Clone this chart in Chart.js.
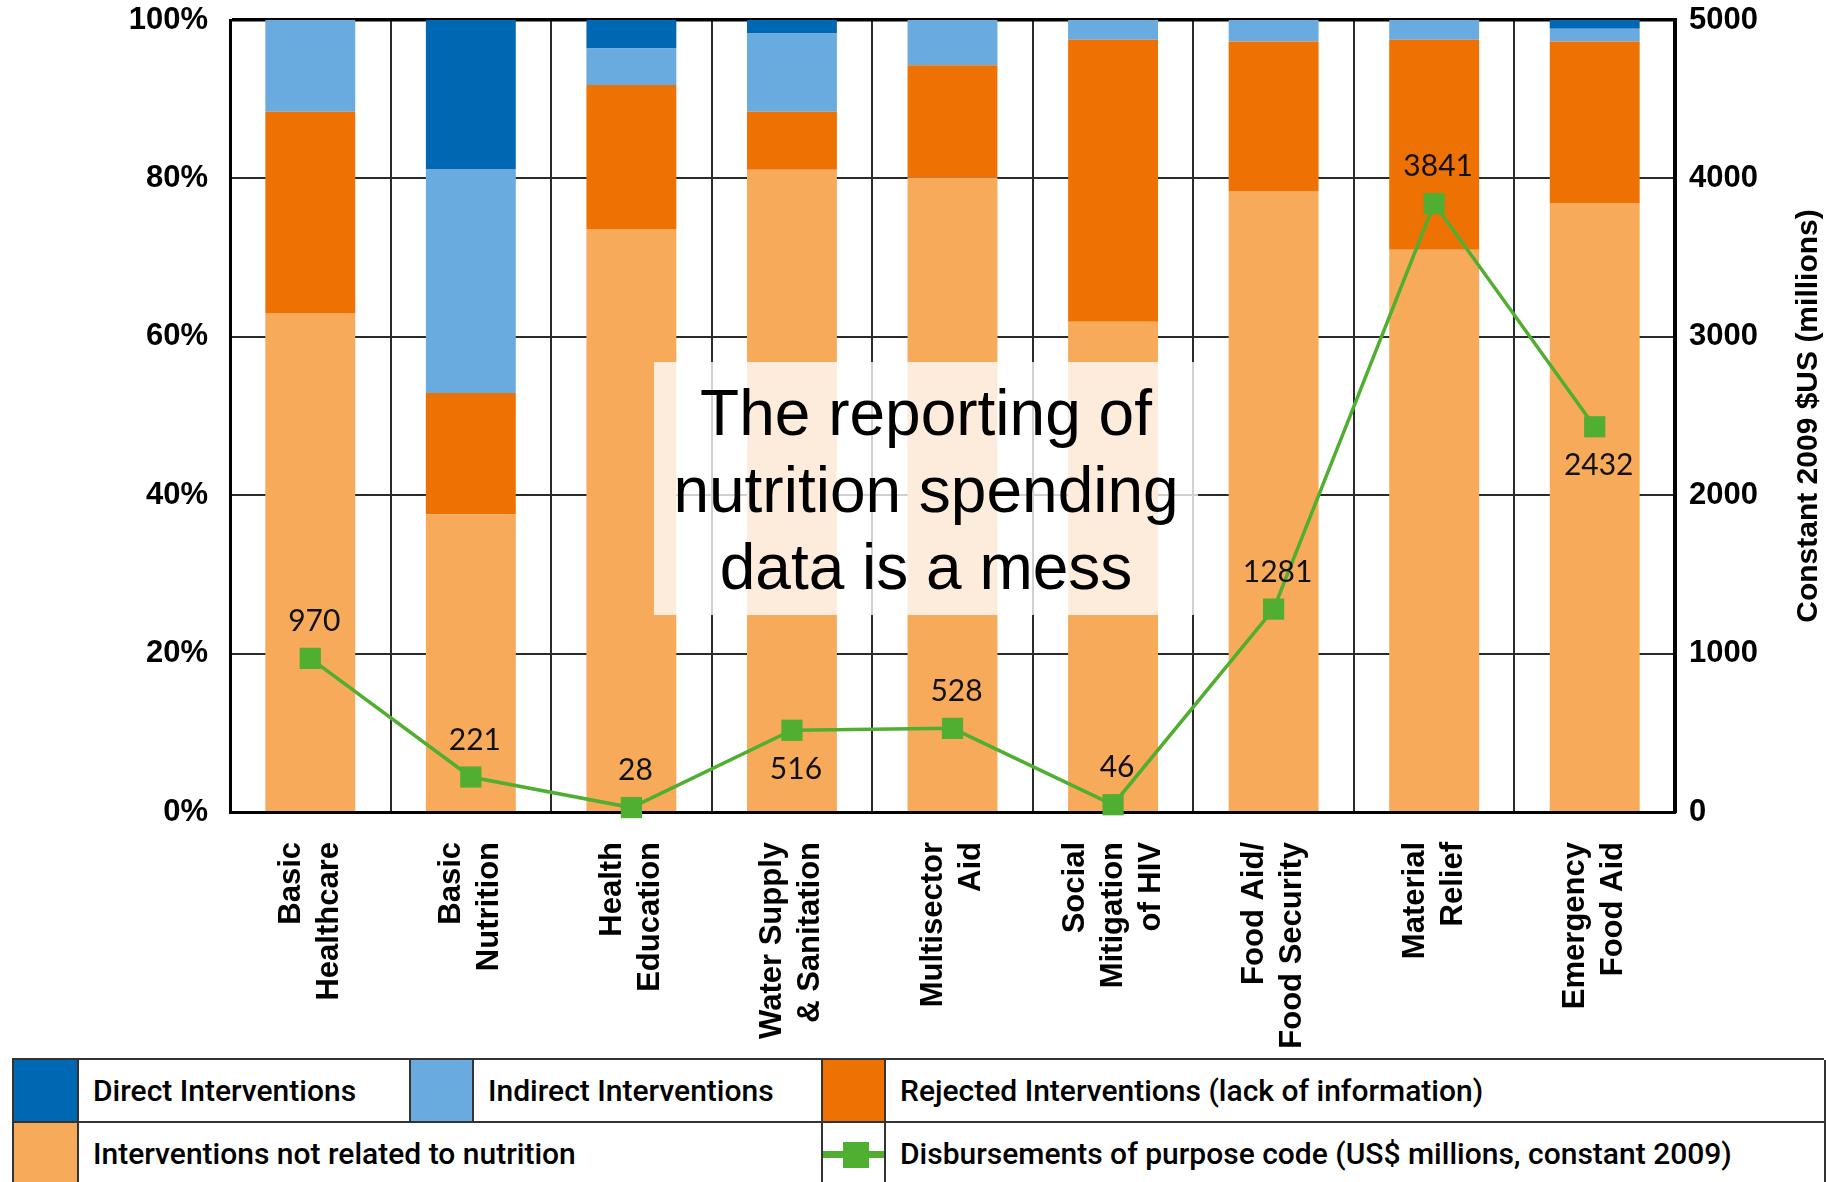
<!DOCTYPE html>
<html>
<head>
<meta charset="utf-8">
<title>Nutrition spending by purpose code</title>
<script src="https://cdn.jsdelivr.net/npm/chart.js@4.4.1/dist/chart.umd.min.js"></script>
<style>
  html, body { margin: 0; padding: 0; background: #fff; }
  body { width: 1826px; height: 1182px; overflow: hidden; position: relative; }
  #nutritionChart { position: absolute; left: 0; top: 0; }
  #legend { position: absolute; left: 12px; top: 1058px; width: 1812px; height: 130px;
            border-top: 2px solid #333; border-left: 2px solid #333; box-sizing: border-box; }
  .cell { position: absolute; box-sizing: border-box; border-right: 2px solid #333; border-bottom: 2px solid #333;
          font: 500 30px Roboto, "Liberation Sans", sans-serif; color: #000; padding-left: 14px; white-space: nowrap; }
</style>
</head>
<body>
<canvas id="nutritionChart" width="1826" height="1058"></canvas>
<div id="legend"></div>

<script>
// categories (multi line labels)
const categories = [
    ['Basic', 'Healthcare'],
    ['Basic', 'Nutrition'],
    ['Health', 'Education'],
    ['Water Supply', '& Sanitation'],
    ['Multisector', 'Aid'],
    ['Social', 'Mitigation', 'of HIV'],
    ['Food Aid/', 'Food Security'],
    ['Material', 'Relief'],
    ['Emergency', 'Food Aid']
];

// share of each purpose code (%), bottom to top of the stack
const notRelated = [63.0, 37.6, 73.6, 81.1, 80.1, 61.9, 78.4, 71.0, 76.9];
const rejected   = [25.4, 15.3, 18.2, 7.3, 14.2, 35.6, 18.9, 26.5, 20.4];
const indirect   = [11.6, 28.3, 4.6, 9.9, 5.7, 2.5, 2.7, 2.5, 1.6];
const direct     = [0, 18.8, 3.6, 1.7, 0, 0, 0, 0, 1.1];

// disbursements, US$ millions constant 2009 (right axis)
const disbursements = [970, 221, 28, 516, 528, 46, 1281, 3841, 2432];
const labelSide = ['above', 'above', 'above', 'below', 'above', 'above', 'above', 'above', 'below'];

// axis ticks
const pctTicks = [0, 20, 40, 60, 80, 100];
const usdTicks = [0, 1000, 2000, 3000, 4000, 5000];

const GREEN = '#50AE31';
const tickFont = { family: '"Liberation Sans", Arial, sans-serif', size: 31, weight: 'bold' };

// keep the plot box where the original has it (labels may hang over the edges)
function fixVertical(width) {
    return function (scale) {
        scale.width = width;
        scale.paddingTop = 0;
        scale.paddingBottom = 0;
    };
}

// draws category labels, right axis title, point labels and the note box
const extrasPlugin = {
    id: 'extras',
    afterDraw(chart) {
        const c = chart.ctx;
        const area = chart.chartArea;
        const xScale = chart.scales.x;
        c.save();

        // category labels, rotated
        c.fillStyle = '#000';
        c.font = 'bold 31px "Liberation Sans", Arial, sans-serif';
        c.textAlign = 'right';
        c.textBaseline = 'middle';
        categories.forEach((lines, i) => {
            const cx = xScale.getPixelForValue(i);
            lines.forEach((line, j) => {
                const lx = cx + (j - (lines.length - 1) / 2) * 38;
                c.save();
                c.translate(lx, area.bottom + 30);
                c.rotate(-Math.PI / 2);
                c.fillText(line, 0, 0);
                c.restore();
            });
        });

        // right axis title (reads bottom to top)
        c.save();
        c.translate(1809, (area.top + area.bottom) / 2);
        c.rotate(-Math.PI / 2);
        c.textAlign = 'center';
        c.font = 'bold 30px "Liberation Sans", Arial, sans-serif';
        c.fillText('Constant 2009 $US (millions)', 0, 0);
        c.restore();

        // value labels on the line
        const meta = chart.getDatasetMeta(4);
        c.font = '30px Lato, "Liberation Sans", sans-serif';
        c.textAlign = 'center';
        c.fillStyle = '#111';
        meta.data.forEach((pt, i) => {
            const dy = labelSide[i] === 'below' ? 39 : -37;
            c.fillText(String(disbursements[i]), pt.x + 4, pt.y + dy);
        });

        // note box
        c.fillStyle = 'rgba(255,255,255,0.78)';
        c.fillRect(654, 362, 544, 253);
        c.fillStyle = '#000';
        c.font = '64px "Liberation Sans", Arial, sans-serif';
        c.textBaseline = 'alphabetic';
        ['The reporting of', 'nutrition spending', 'data is a mess'].forEach((t, i) => {
            c.fillText(t, 926, 435 + i * 77);
        });

        c.restore();
    }
};

const ctx = document.getElementById('nutritionChart').getContext('2d');
const chart = new Chart(ctx, {
    type: 'bar',
    data: {
        labels: categories,
        datasets: [
            { label: 'Interventions not related to nutrition', data: notRelated, backgroundColor: '#F6AA5A', order: 1 },
            { label: 'Rejected Interventions (lack of information)', data: rejected, backgroundColor: '#EE7203', order: 1 },
            { label: 'Indirect Interventions', data: indirect, backgroundColor: '#69ABDF', order: 1 },
            { label: 'Direct Interventions', data: direct, backgroundColor: '#0068B3', order: 1 },
            {
                type: 'line',
                label: 'Disbursements of purpose code (US$ millions, constant 2009)',
                data: disbursements,
                yAxisID: 'y1',
                borderColor: GREEN,
                borderWidth: 3.5,
                backgroundColor: GREEN,
                pointStyle: 'rect',
                pointRadius: 15,
                pointBorderWidth: 0,
                pointBackgroundColor: GREEN,
                tension: 0,
                clip: false,
                order: 0
            }
        ]
    },
    options: {
        responsive: false,
        animation: false,
        devicePixelRatio: 1,
        layout: { padding: { top: 20, left: 0, right: 0, bottom: 0 } },
        datasets: { bar: { barPercentage: 0.56, categoryPercentage: 1 } },
        plugins: {
            legend: { display: false },
            tooltip: { enabled: false }
        },
        scales: {
            x: {
                stacked: true,
                ticks: { display: false },
                grid: { offset: true, color: '#2a2a2a', lineWidth: 2, drawTicks: false },
                border: { display: true, color: '#000', width: 3 },
                afterFit(scale) { scale.height = 246; scale.paddingLeft = 0; scale.paddingRight = 0; }
            },
            y: {
                stacked: true,
                position: 'left',
                min: 0,
                max: 100,
                afterBuildTicks(scale) { scale.ticks = pctTicks.map(v => ({ value: v })); },
                ticks: { callback: v => v + '%', font: tickFont, color: '#000', padding: 22 },
                grid: {
                    color: ctx => ctx.tick && ctx.tick.value === 100 ? '#000' : '#2a2a2a',
                    lineWidth: ctx => ctx.tick && ctx.tick.value === 100 ? 3.5 : 2,
                    drawTicks: false
                },
                border: { display: true, color: '#000', width: 3 },
                afterFit: fixVertical(230)
            },
            y1: {
                position: 'right',
                min: 0,
                max: 5000,
                afterBuildTicks(scale) { scale.ticks = usdTicks.map(v => ({ value: v })); },
                ticks: { callback: v => String(v), font: tickFont, color: '#000', padding: 14 },
                grid: { display: false, drawTicks: false },
                border: { display: true, color: '#000', width: 4 },
                afterFit: fixVertical(151)
            }
        }
    },
    plugins: [extrasPlugin]
});

// legend table under the chart
function buildLegend() {
    const ds = chart.data.datasets;
    const cells = [
        // row 1
        { left: 0, top: 0, w: 65, swatch: ds[3].backgroundColor },
        { left: 65, top: 0, w: 332, text: ds[3].label },
        { left: 397, top: 0, w: 63, swatch: ds[2].backgroundColor },
        { left: 460, top: 0, w: 349, text: ds[2].label },
        { left: 809, top: 0, w: 63, swatch: ds[1].backgroundColor },
        { left: 872, top: 0, w: 940, text: ds[1].label },
        // row 2
        { left: 0, top: 63, w: 65, swatch: ds[0].backgroundColor },
        { left: 65, top: 63, w: 744, text: ds[0].label },
        { left: 809, top: 63, w: 63, line: true },
        { left: 872, top: 63, w: 940, text: ds[4].label }
    ];
    const box = document.getElementById('legend');
    cells.forEach(cell => {
        const d = document.createElement('div');
        d.className = 'cell';
        d.style.left = cell.left + 'px';
        d.style.top = cell.top + 'px';
        d.style.width = cell.w + 'px';
        d.style.height = '63px';
        d.style.lineHeight = '61px';
        if (cell.swatch) {
            d.style.background = cell.swatch;
        } else if (cell.line) {
            d.style.padding = '0';
            d.innerHTML =
                '<div style="position:absolute;left:0;right:0;top:28px;height:7px;background:' + GREEN + '"></div>' +
                '<div style="position:absolute;left:20px;top:19px;width:26px;height:26px;background:' + GREEN + '"></div>';
        } else {
            d.textContent = cell.text;
        }
        box.appendChild(d);
    });
}
buildLegend();
</script>
</body>
</html>
